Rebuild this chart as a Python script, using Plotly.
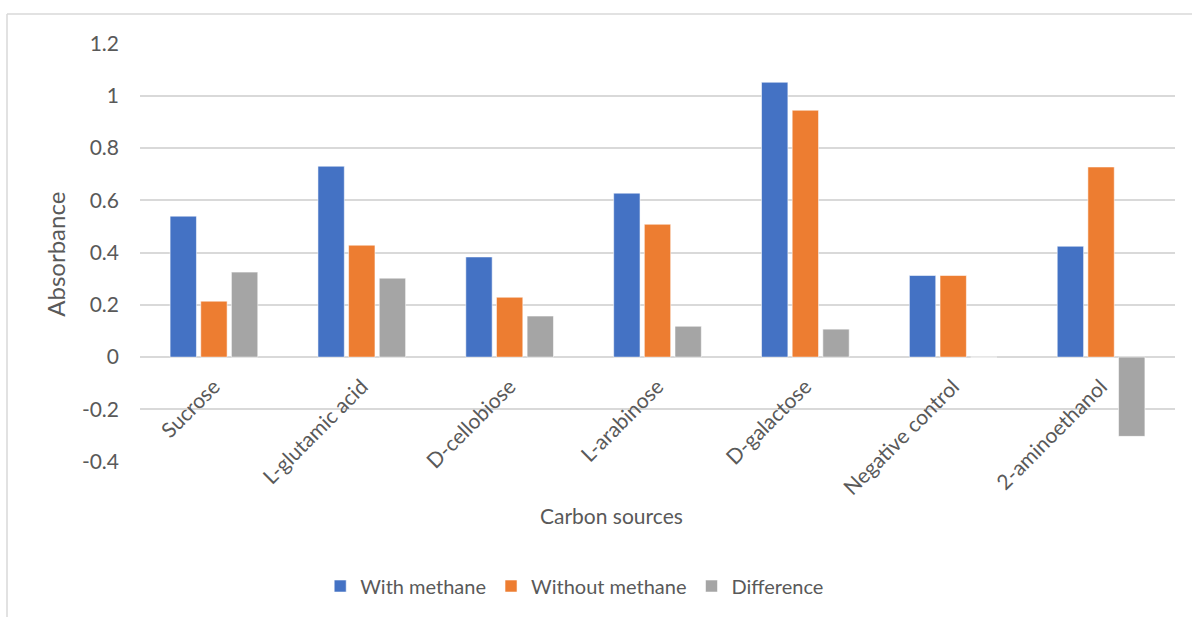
import plotly.graph_objects as go

# Absorbance per carbon source
categories = ["Sucrose", "L-glutamic acid", "D-cellobiose", "L-arabinose",
              "D-galactose", "Negative control", "2-aminoethanol"]
with_methane = [0.539, 0.730, 0.383, 0.627, 1.051, 0.312, 0.424]
without_methane = [0.214, 0.428, 0.229, 0.508, 0.944, 0.312, 0.727]
difference = [0.325, 0.302, 0.157, 0.118, 0.107, 0.0, -0.303]

y_ticks = [-0.4, -0.2, 0, 0.2, 0.4, 0.6, 0.8, 1.0, 1.2]
y_tick_text = ["-0.4", "-0.2", "0", "0.2", "0.4", "0.6", "0.8", "1", "1.2"]
y_min, y_max = -0.4, 1.2

FONT = "Lato, 'Open Sans', sans-serif"
TEXT_GRAY = "#595959"
GRID = "#D9D9D9"

series = [
    ("With methane", with_methane, "#4472C4"),
    ("Without methane", without_methane, "#ED7D31"),
    ("Difference", difference, "#A5A5A5"),
]

fig = go.Figure()
for name, vals, color in series:
    fig.add_trace(go.Bar(
        x=categories, y=vals, name=name,
        marker=dict(color=color, line=dict(color="rgba(255,255,255,0.55)", width=1)),
    ))

# category axis sits on the zero line, not at the bottom of the plot
zero_pos = (0 - y_min) / (y_max - y_min)

fig.update_layout(
    width=1192, height=617,
    margin=dict(l=140, r=17, t=43, b=155),
    paper_bgcolor="white", plot_bgcolor="white",
    barmode="group", bargap=0.378, bargroupgap=0.14,
    font=dict(family=FONT, size=20, color=TEXT_GRAY),
    showlegend=True,
    legend=dict(orientation="h", x=0.42, y=-0.296, xanchor="center", yanchor="middle",
                font=dict(size=20, color=TEXT_GRAY), traceorder="normal",
                itemwidth=30),
    xaxis=dict(
        anchor="free", position=zero_pos,
        tickangle=-45, showgrid=False, showline=False, ticks="",
        tickfont=dict(size=21, color=TEXT_GRAY), ticklabelstandoff=12,
    ),
    yaxis=dict(
        range=[y_min - 0.001, y_max + 0.001], tickvals=y_ticks, ticktext=y_tick_text,
        showgrid=True, gridcolor=GRID, gridwidth=1.5,
        zeroline=True, zerolinecolor=GRID, zerolinewidth=1.5,
        showline=False, ticks="", ticklabelstandoff=20,
        tickfont=dict(size=21, color=TEXT_GRAY),
    ),
    annotations=[
        dict(text="Absorbance", xref="paper", yref="paper", x=-0.0812, y=0.497,
             textangle=-90, showarrow=False, font=dict(size=24, color=TEXT_GRAY),
             xanchor="center", yanchor="middle"),
        dict(text="Carbon sources", xref="paper", yref="paper", x=0.456, y=-0.1265,
             showarrow=False, font=dict(size=21, color=TEXT_GRAY),
             xanchor="center", yanchor="middle"),
    ],
    shapes=[
        # chart area frame (top and left edges)
        dict(type="line", xref="paper", yref="paper", x0=-0.1285, x1=1.02, y0=1.069, y1=1.069,
             line=dict(color=GRID, width=1.5)),
        dict(type="line", xref="paper", yref="paper", x0=-0.1285, x1=-0.1285, y0=1.069, y1=-0.38,
             line=dict(color=GRID, width=1.5)),
    ],
)

fig.write_html("out.html")
